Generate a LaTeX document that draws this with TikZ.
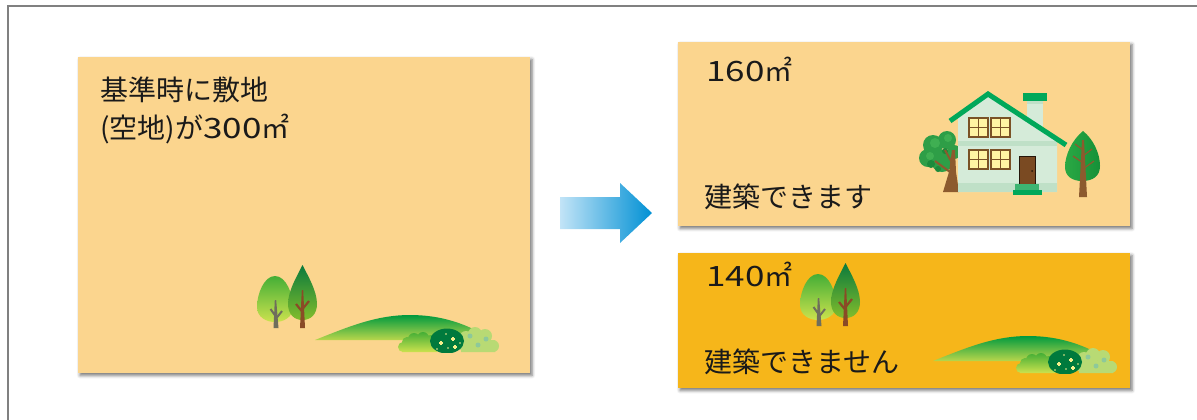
\documentclass[tikz,border=0pt]{standalone}
\usepackage{fontspec}
\newfontfamily\jpfont{Noto Sans CJK JP}
\newfontfamily\jpwide{Noto Sans CJK JP}[FakeStretch=1.25]
\usetikzlibrary{shadows.blur}

\definecolor{sitepale}{HTML}{FBD58E}
\definecolor{siteamber}{HTML}{F6B61A}
\definecolor{framegray}{HTML}{808080}
\definecolor{inkblack}{HTML}{1A1A1A}
\definecolor{arrowlight}{HTML}{C2E4F7}
\definecolor{arrowblue}{HTML}{0090D4}
\definecolor{leafdark}{HTML}{0A7A3C}
\definecolor{leaflime}{HTML}{82BD2C}
\definecolor{leafgreen}{HTML}{44AE36}
\definecolor{leafyellow}{HTML}{CCE24E}
\definecolor{hilltop}{HTML}{009A3F}
\definecolor{hillfoot}{HTML}{B9D64B}
\definecolor{bushdark}{HTML}{007A3D}
\definecolor{bushpale}{HTML}{B8DA74}
\definecolor{bushdot}{HTML}{8DC99A}
\definecolor{sparkle}{HTML}{F4EF8C}
\definecolor{trunkbrown}{HTML}{8A4B26}
\definecolor{trunkgray}{HTML}{6F6E5C}
\definecolor{oakgreen}{HTML}{2E9E47}
\definecolor{oaklight}{HTML}{3FAF52}
\definecolor{oakshade}{HTML}{1B8A3B}
\definecolor{pinegreen}{HTML}{2AA944}
\definecolor{pineshade}{HTML}{169038}
\definecolor{barkbrown}{HTML}{8C5A2E}
\definecolor{wallmint}{HTML}{D5EBD9}
\definecolor{wallshade}{HTML}{BFE0C7}
\definecolor{roofgreen}{HTML}{00A85A}
\definecolor{stepgreen}{HTML}{3DB572}
\definecolor{framebrown}{HTML}{7A5226}
\definecolor{glassyellow}{HTML}{FFF4A3}
\definecolor{doorbrown}{HTML}{7A4A22}

\begin{document}
\begin{tikzpicture}[
    x=0.5pt, y=-0.5pt,
    card/.style={minimum width=226pt, inner sep=0pt, outer sep=0pt,
        blur shadow={shadow xshift=1pt, shadow yshift=-1.2pt, shadow blur radius=1.6pt, shadow opacity=55}},
    caption/.style={font=\jpfont\fontsize{14}{17}\selectfont, text=inkblack, anchor=base west, inner sep=0pt},
    treepair/.pic={
        % light round tree
        \shade[top color=leafgreen, bottom color=leafyellow]
            (18,0) .. controls (7,0) and (0,18) .. (0,31) .. controls (0,41) and (9,46) .. (18,46)
            .. controls (27,46) and (36,41) .. (36,31) .. controls (36,18) and (29,0) .. (18,0) -- cycle;
        \fill[trunkgray] (16.5,52) -- (17.8,24) -- (19.2,24) -- (21.5,52) -- cycle;
        \draw[trunkgray, line width=1pt] (18.5,40) -- (13.5,33) (19.5,42) -- (25,35);
        % dark pointed tree
        \shade[top color=leafdark, bottom color=leaflime]
            (45.5,-11) .. controls (40,0) and (31,15) .. (31,28) .. controls (31,38) and (37,44) .. (45.5,44)
            .. controls (54,44) and (60,38) .. (60,28) .. controls (60,15) and (51,0) .. (45.5,-11) -- cycle;
        \fill[trunkbrown] (43,52) -- (44.8,14) -- (46.2,14) -- (48,52) -- cycle;
        \draw[trunkbrown, line width=1.1pt] (45.5,36) -- (39,28) (45.5,33) -- (52,25);
    },
    meadow/.pic={
        % hill
        \shade[top color=hilltop, bottom color=hillfoot]
            (0,0) .. controls (35,-14) and (62,-25) .. (95,-25) .. controls (125,-25) and (148,-17) .. (168,-6) -- (168,0) -- cycle;
        % pale bush with dots
        \fill[bushpale] (180,0) rectangle (146,12) (151,-2) circle (7) (160,-6) circle (7)
            (170,-4) circle (7) (178,6) circle (6) (148,6) circle (5);
        \foreach \dx/\dy in {155/-4, 171/-1, 163/5}
            \fill[bushdot] (\dx,\dy) circle (2.5);
        % green bush
        \shade[top color=leafgreen, bottom color=leafyellow] (122,2) rectangle (87,12)
            (88,7) circle (5) (92,2) circle (5) (99,-1) circle (6) (108,-2) circle (6) (116,1) circle (6);
        % dark bush with sparkles
        \begin{scope}
            \clip (100,-20) rectangle (170,12);
            \fill[bushdark] (132,1) ellipse (17 and 12.5);
        \end{scope}
        \foreach \dx/\dy in {131/-6, 145/3, 133/8, 122/9}
            \fill[sparkle] (\dx,\dy) circle (0.9);
        \foreach \dx/\dy in {126/3, 138/-1, 140/7}
            \draw[sparkle, line width=0.7pt] (\dx-2,\dy) -- (\dx+2,\dy) (\dx,\dy-2) -- (\dx,\dy+2);
    }
]
    \useasboundingbox (0,0) rectangle (1197,419);

    % --- Outer frame ---
    \draw[framegray, line width=1pt] (1210,6) -- (7.5,6) -- (7.5,430);

    % --- Cards ---
    \node[card, fill=sitepale, minimum height=158pt] (site) at (304,215) {};
    \node[card, fill=sitepale, minimum height=92pt] (built) at (904,134) {};
    \node[card, fill=siteamber, minimum height=67.5pt] (unbuilt) at (904,320.5) {};

    % --- Block arrow ---
    \shade[left color=arrowlight, right color=arrowblue]
        (560,197) -- (620,197) -- (620,183) -- (652,213) -- (620,243) -- (620,229) -- (560,229) -- cycle;

    % --- Texts ---
    \node[caption] (site-top) at (100,100) {基準時に敷地};
    \node[caption] (site-area) at (100,138) {(空地)が{\jpwide 300}㎡};
    \node[caption] (built-area) at (706,81) {{\jpwide 160}㎡};
    \node[caption] (built-note) at (704,207) {建築できます};
    \node[caption] (unbuilt-area) at (706,286) {{\jpwide 140}㎡};
    \node[caption] (unbuilt-note) at (704,372) {建築できません};

    % --- Landscape ---
    \pic at (257,276) {treepair};
    \pic at (315,340) {meadow};
    \pic at (800,274) {treepair};
    \pic at (933,361) {meadow};

    % --- House with trees ---
    % bushy tree on the left
    \fill[oakgreen] (933,145) circle (10) (947,140) circle (9) (928,158) circle (9)
        (942,161) circle (11) (954,152) circle (7);
    \fill[oaklight] (935,143) circle (5) (948,138) circle (4) (930,156) circle (4);
    \fill[oakshade] (931,164) circle (4) (945,151) circle (3) (938,169) circle (3);
    \fill[barkbrown] (943,192) -- (949,172) -- (952,150) -- (955,150) -- (956,172) -- (959,192) -- cycle;
    \draw[barkbrown, line width=1pt] (950,172) -- (935,161) (952,163) -- (945,150);
    % chimney
    \fill[wallmint] (1027,100) rectangle (1043,132);
    \fill[wallshade] (1027,100) rectangle (1043,104);
    \fill[roofgreen] (1023,93) rectangle (1047,101);
    % walls and bands
    \fill[wallmint] (958,192) -- (958,118) -- (988,96) -- (1057,141) -- (1057,192) -- cycle;
    \fill[wallshade] (958,141) rectangle (1057,146);
    \fill[wallshade] (958,183) rectangle (1057,192);
    % roof
    \draw[roofgreen, line width=2.5pt] (950,121) -- (988,94) -- (1066,145);
    % windows
    \foreach \wx/\wy in {969/118, 991/118, 969/150, 991/150} {
        \filldraw[fill=glassyellow, draw=framebrown, line width=1.1pt] (\wx,\wy) rectangle (\wx+19,\wy+19);
        \draw[framebrown, line width=0.9pt] (\wx+9.5,\wy) -- (\wx+9.5,\wy+19) (\wx,\wy+9.5) -- (\wx+19,\wy+9.5);
    }
    % door and steps
    \filldraw[fill=doorbrown, draw=black!70!doorbrown, line width=0.5pt] (1019,156) rectangle (1035,184);
    \fill[black!70!doorbrown] (1032,171) circle (1);
    \fill[stepgreen] (1015,184) rectangle (1039,190);
    \fill[roofgreen] (1013,190) rectangle (1042,195);
    % pointed tree on the right
    \shade[left color=pinegreen, right color=pineshade]
        (1083,131) .. controls (1072,140) and (1065,155) .. (1065,167) .. controls (1065,176) and (1072,181) .. (1082,181)
        .. controls (1093,181) and (1100,176) .. (1100,166) .. controls (1100,153) and (1093,139) .. (1083,131) -- cycle;
    \fill[barkbrown] (1079,197) -- (1082,140) -- (1084,140) -- (1087,197) -- cycle;
    \draw[barkbrown, line width=0.6pt] (1083,150) -- (1075,144) (1083,156) -- (1092,149)
        (1083,163) -- (1073,156) (1083,169) -- (1094,161);

\end{tikzpicture}
\end{document}
